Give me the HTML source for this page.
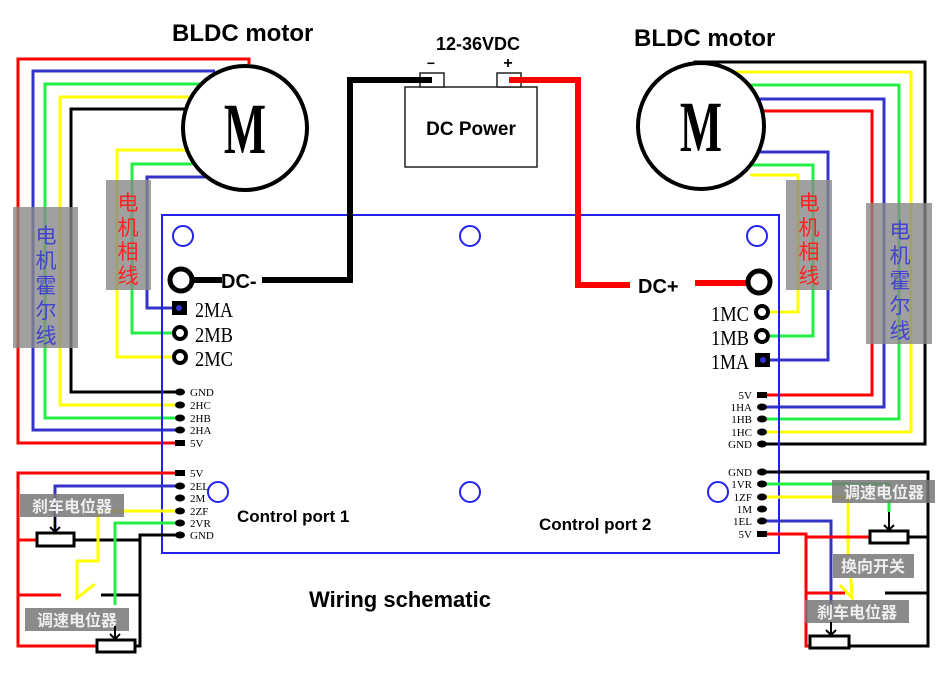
<!DOCTYPE html>
<html><head><meta charset="utf-8"><style>
html,body{margin:0;padding:0;background:#fff;}
svg{display:block;}
.b{font-family:"Liberation Sans","Noto Sans CJK SC",sans-serif;font-weight:bold;}
.s{font-family:"Liberation Serif",serif;}
.cn{font-family:"Noto Sans CJK SC","WenQuanYi Zen Hei",sans-serif;}
</style></head><body>
<svg width="952" height="686" viewBox="0 0 952 686" xmlns="http://www.w3.org/2000/svg">
<rect width="952" height="686" fill="#fff"/>
<g fill="none" stroke-width="3" stroke-linejoin="miter">
<polyline points="249,64 249,59 18,59 18,443 180,443" stroke="#ff0000"/>
<polyline points="215,71 33,71 33,430 180,430" stroke="#3333cc"/>
<polyline points="200,84 45,84 45,418 180,418" stroke="#22ee44"/>
<polyline points="190,97 60,97 60,405 180,405" stroke="#ffff00"/>
<polyline points="185,109 71,109 71,392 180,392" stroke="#000"/>
<polyline points="190,150 117,150 117,357 180,357" stroke="#ffff00"/>
<polyline points="195,164 132,164 132,333 180,333" stroke="#22ee44"/>
<polyline points="205,177 147,177 147,308 180,308" stroke="#3333cc"/>
<polyline points="695,66 695,62 925,62 925,444 762,444" stroke="#000"/>
<polyline points="728,72 911,72 911,432 762,432" stroke="#ffff00"/>
<polyline points="750,85 899,85 899,419 762,419" stroke="#22ee44"/>
<polyline points="752,99 884,99 884,407 762,407" stroke="#3333cc"/>
<polyline points="760,111 872,111 872,395 762,395" stroke="#ff0000"/>
<polyline points="752,152 828,152 828,360 762,360" stroke="#3333cc"/>
<polyline points="752,165 813,165 813,336 762,336" stroke="#22ee44"/>
<polyline points="750,175 798,175 798,312 762,312" stroke="#ffff00"/>
</g>
<rect x="13" y="207" width="65" height="141" fill="#888" opacity="0.8"/>
<rect x="106" y="180" width="45" height="110" fill="#888" opacity="0.8"/>
<rect x="786" y="180" width="46" height="110" fill="#888" opacity="0.8"/>
<rect x="866" y="203" width="66" height="141" fill="#888" opacity="0.8"/>
<g class="cn" font-size="21" text-anchor="middle">
<text x="46" y="243" fill="#4444cc">电</text><text x="46" y="268" fill="#4444cc">机</text><text x="46" y="293" fill="#4444cc">霍</text><text x="46" y="318" fill="#4444cc">尔</text><text x="46" y="343" fill="#4444cc">线</text>
<text x="128" y="210" fill="#ff2222">电</text><text x="128" y="235" fill="#ff2222">机</text><text x="128" y="259" fill="#ff2222">相</text><text x="128" y="283" fill="#ff2222">线</text>
<text x="809" y="210" fill="#ff2222">电</text><text x="809" y="235" fill="#ff2222">机</text><text x="809" y="259" fill="#ff2222">相</text><text x="809" y="283" fill="#ff2222">线</text>
<text x="900" y="238" fill="#4444cc">电</text><text x="900" y="263" fill="#4444cc">机</text><text x="900" y="288" fill="#4444cc">霍</text><text x="900" y="313" fill="#4444cc">尔</text><text x="900" y="338" fill="#4444cc">线</text>
</g>
<circle cx="245" cy="128" r="62" fill="#fff" stroke="#000" stroke-width="4"/>
<circle cx="701" cy="126" r="63" fill="#fff" stroke="#000" stroke-width="4"/>
<g transform="translate(245,153) scale(0.62,1)"><text x="0" y="0" class="s" font-size="72" font-weight="bold" text-anchor="middle">M</text></g>
<g transform="translate(701,151) scale(0.62,1)"><text x="0" y="0" class="s" font-size="72" font-weight="bold" text-anchor="middle">M</text></g>
<text x="172" y="41" class="b" font-size="24">BLDC motor</text>
<text x="634" y="46" class="b" font-size="24">BLDC motor</text>
<rect x="162" y="215" width="617" height="338" fill="none" stroke="#2222ee" stroke-width="2"/>
<g fill="none" stroke="#2222ee" stroke-width="2">
<circle cx="183" cy="236" r="10"/><circle cx="470" cy="236" r="10"/><circle cx="757" cy="236" r="10"/>
<circle cx="218" cy="492" r="10"/><circle cx="470" cy="492" r="10"/><circle cx="718" cy="492" r="10"/>
</g>
<rect x="405" y="87" width="132" height="80" fill="#fff" stroke="#222" stroke-width="1.5"/>
<rect x="420" y="73" width="24" height="14" fill="#fff" stroke="#222" stroke-width="1.5"/>
<rect x="497" y="73" width="24" height="14" fill="#fff" stroke="#222" stroke-width="1.5"/>
<text x="471" y="135" class="b" font-size="19" text-anchor="middle">DC Power</text>
<text x="478" y="50" class="b" font-size="18" text-anchor="middle">12-36VDC</text>
<text x="431" y="68" class="b" font-size="14" text-anchor="middle">−</text>
<text x="508" y="68" class="b" font-size="16" text-anchor="middle">+</text>
<polyline points="432,80 350,80 350,280 262,280" fill="none" stroke="#000" stroke-width="6"/>
<polyline points="509,80 578,80 578,285 630,285" fill="none" stroke="#ff0000" stroke-width="6"/>
<line x1="695" y1="283" x2="757" y2="283" stroke="#ff0000" stroke-width="6"/>
<line x1="181" y1="280" x2="222" y2="280" stroke="#000" stroke-width="6"/>
<text x="221" y="288" class="b" font-size="20">DC-</text>
<text x="638" y="293" class="b" font-size="20">DC+</text>
<circle cx="181" cy="280" r="11" fill="#fff" stroke="#000" stroke-width="5"/>
<circle cx="759" cy="282" r="11" fill="#fff" stroke="#000" stroke-width="5"/>
<rect x="172" y="301" width="15" height="14" fill="#000"/><circle cx="179" cy="308" r="3" fill="#3333cc"/>
<circle cx="180" cy="333" r="6" fill="#fff" stroke="#000" stroke-width="4"/>
<circle cx="180" cy="357" r="6" fill="#fff" stroke="#000" stroke-width="4"/>
<circle cx="762" cy="312" r="6" fill="#fff" stroke="#000" stroke-width="4"/>
<circle cx="762" cy="336" r="6" fill="#fff" stroke="#000" stroke-width="4"/>
<rect x="755" y="353" width="15" height="14" fill="#000"/><circle cx="763" cy="360" r="3" fill="#3333cc"/>
<g class="s" font-size="21">
<text x="195" y="317" textLength="38" lengthAdjust="spacingAndGlyphs">2MA</text><text x="195" y="342" textLength="38" lengthAdjust="spacingAndGlyphs">2MB</text><text x="195" y="366" textLength="38" lengthAdjust="spacingAndGlyphs">2MC</text>
<text x="711" y="321" textLength="38" lengthAdjust="spacingAndGlyphs">1MC</text><text x="711" y="345" textLength="38" lengthAdjust="spacingAndGlyphs">1MB</text><text x="711" y="369" textLength="38" lengthAdjust="spacingAndGlyphs">1MA</text>
</g>
<g fill="none" stroke-width="3">
<polyline points="180,473 18,473 18,646 97,646" stroke="#ff0000"/>
<line x1="18" y1="540" x2="37" y2="540" stroke="#ff0000"/>
<line x1="18" y1="595" x2="61" y2="595" stroke="#ff0000"/>
<polyline points="180,486 55,486 55,530" stroke="#3333cc"/>
<polyline points="180,535 140,535 140,646 135,646" stroke="#000"/>
<line x1="74" y1="540" x2="140" y2="540" stroke="#000"/>
<line x1="101" y1="595" x2="140" y2="595" stroke="#000"/>
<polyline points="180,511 98,511 98,561 77,561 77,598 95,584" stroke="#ffff00"/>
<polyline points="180,523 115,523 115,605" stroke="#22ee44"/>
</g>
<rect x="20" y="494" width="104" height="23" fill="#777" opacity="0.85"/>
<rect x="25" y="608" width="104" height="23" fill="#777" opacity="0.85"/>
<text x="72" y="512" class="cn" font-size="16" font-weight="bold" fill="#eee" text-anchor="middle">刹车电位器</text>
<text x="77" y="626" class="cn" font-size="16" font-weight="bold" fill="#eee" text-anchor="middle">调速电位器</text>
<rect x="37" y="533" width="37" height="13" fill="#fff" stroke="#000" stroke-width="3"/>
<rect x="97" y="640" width="38" height="12" fill="#fff" stroke="#000" stroke-width="3"/>
<g stroke="#000" stroke-width="2" fill="none">
<line x1="55" y1="517" x2="55" y2="532"/><polyline points="50,527 55,532 60,527"/>
<line x1="115" y1="626" x2="115" y2="639"/><polyline points="110,634 115,639 120,634"/>
</g>
<g fill="none" stroke-width="3">
<polyline points="762,472 928,472 928,646 849,646" stroke="#000"/>
<line x1="908" y1="537" x2="928" y2="537" stroke="#000"/>
<line x1="885" y1="593" x2="928" y2="593" stroke="#000"/>
<polyline points="762,484 889,484 889,512" stroke="#22ee44"/>
<polyline points="762,497 848,497 848,556" stroke="#ffff00"/>
<polyline points="851,578 852,598 840,585" stroke="#ffff00"/>
<polyline points="762,521 831,521 831,610" stroke="#3333cc"/>
<polyline points="762,534 806,534 806,646 810,646" stroke="#ff0000"/>
<line x1="806" y1="537" x2="870" y2="537" stroke="#ff0000"/>
<line x1="806" y1="593" x2="845" y2="593" stroke="#ff0000"/>
</g>
<rect x="832" y="480" width="103" height="23" fill="#777" opacity="0.85"/>
<rect x="833" y="554" width="81" height="24" fill="#777" opacity="0.85"/>
<rect x="805" y="600" width="104" height="23" fill="#777" opacity="0.85"/>
<text x="884" y="498" class="cn" font-size="16" font-weight="bold" fill="#eee" text-anchor="middle">调速电位器</text>
<text x="873" y="572" class="cn" font-size="16" font-weight="bold" fill="#eee" text-anchor="middle">换向开关</text>
<text x="857" y="618" class="cn" font-size="16" font-weight="bold" fill="#eee" text-anchor="middle">刹车电位器</text>
<rect x="870" y="531" width="38" height="12" fill="#fff" stroke="#000" stroke-width="3"/>
<rect x="810" y="636" width="39" height="12" fill="#fff" stroke="#000" stroke-width="3"/>
<g stroke="#000" stroke-width="2" fill="none">
<line x1="889" y1="512" x2="889" y2="530"/><polyline points="884,525 889,530 894,525"/>
<line x1="831" y1="622" x2="831" y2="635"/><polyline points="826,630 831,635 836,630"/>
</g>
<g fill="#000">
<ellipse cx="180" cy="392" rx="5" ry="3.5"/><ellipse cx="180" cy="405" rx="5" ry="3.5"/><ellipse cx="180" cy="418" rx="5" ry="3.5"/><ellipse cx="180" cy="430" rx="5" ry="3.5"/><rect x="175" y="440" width="10" height="6"/>
<rect x="175" y="470" width="10" height="6"/><ellipse cx="180" cy="486" rx="5" ry="3.5"/><ellipse cx="180" cy="498" rx="5" ry="3.5"/><ellipse cx="180" cy="511" rx="5" ry="3.5"/><ellipse cx="180" cy="523" rx="5" ry="3.5"/><ellipse cx="180" cy="535" rx="5" ry="3.5"/>
<rect x="757" y="392" width="10" height="6"/><ellipse cx="762" cy="407" rx="5" ry="3.5"/><ellipse cx="762" cy="419" rx="5" ry="3.5"/><ellipse cx="762" cy="432" rx="5" ry="3.5"/><ellipse cx="762" cy="444" rx="5" ry="3.5"/>
<ellipse cx="762" cy="472" rx="5" ry="3.5"/><ellipse cx="762" cy="484" rx="5" ry="3.5"/><ellipse cx="762" cy="497" rx="5" ry="3.5"/><ellipse cx="762" cy="509" rx="5" ry="3.5"/><ellipse cx="762" cy="521" rx="5" ry="3.5"/><rect x="757" y="531" width="10" height="6"/>
</g>
<g class="s" font-size="11">
<text x="190" y="396">GND</text><text x="190" y="409">2HC</text><text x="190" y="422">2HB</text><text x="190" y="434">2HA</text><text x="190" y="447">5V</text>
<text x="190" y="477">5V</text><text x="190" y="490">2EL</text><text x="190" y="502">2M</text><text x="190" y="515">2ZF</text><text x="190" y="527">2VR</text><text x="190" y="539">GND</text>
</g>
<g class="s" font-size="11" text-anchor="end">
<text x="752" y="399">5V</text><text x="752" y="411">1HA</text><text x="752" y="423">1HB</text><text x="752" y="436">1HC</text><text x="752" y="448">GND</text>
<text x="752" y="476">GND</text><text x="752" y="488">1VR</text><text x="752" y="501">1ZF</text><text x="752" y="513">1M</text><text x="752" y="525">1EL</text><text x="752" y="538">5V</text>
</g>
<text x="237" y="522" class="b" font-size="17">Control port 1</text>
<text x="539" y="530" class="b" font-size="17">Control port 2</text>
<text x="309" y="607" class="b" font-size="22">Wiring schematic</text>
</svg>
</body></html>
